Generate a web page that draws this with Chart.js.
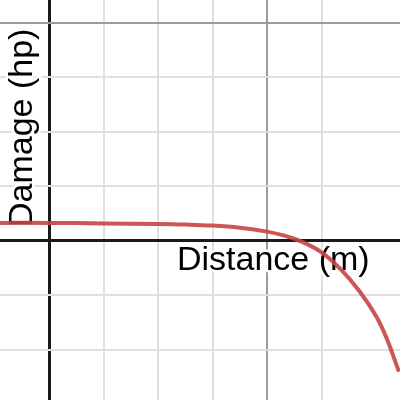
<!DOCTYPE html>
<html>
<head>
<meta charset="utf-8">
<script src="https://cdn.jsdelivr.net/npm/chart.js@4/dist/chart.umd.min.js"></script>
<style>
html,body{margin:0;padding:0;background:#fff;}
#wrap{width:400px;height:400px;}
</style>
</head>
<body>
<div id="wrap"><canvas id="c" width="400" height="400"></canvas></div>
<script>
// Data (grid unit = one minor square)
const distance = [-0.9, 0, 1, 2, 2.5, 3, 3.5, 4, 4.3, 4.6, 5.0, 5.35, 5.7, 6.0, 6.2, 6.42];
const damage   = [0.33, 0.33, 0.32, 0.31, 0.30, 0.28, 0.24, 0.17, 0.10, 0.0, -0.21, -0.52, -0.93, -1.38, -1.8, -2.4];
const xLabel = "Distance (m)";
const yLabel = "Damage (hp)";
const xRange = [-0.9, 6.44];
const yRange = [-2.92, 4.42];

const points = distance.map((d, i) => ({x: d, y: damage[i]}));

function gridColor(ctx) {
  const v = ctx.tick ? ctx.tick.value : 0;
  if (Math.abs(v - Math.round(v)) > 1e-6) return 'rgba(0,0,0,0)';
  if (Math.round(v) === 0) return '#1a1a1a';
  if (Math.round(v) % 4 === 0) return '#9b9b9b';
  return '#e0e0e0';
}
function gridWidth(ctx) {
  const v = ctx.tick ? ctx.tick.value : 0;
  if (Math.abs(v) < 1e-6) return 3;
  return 2;
}

const labelPlugin = {
  id: 'axisLabels',
  beforeDatasetsDraw(chart) {
    const c = chart.ctx;
    c.save();
    c.font = '34px "Liberation Sans", Arial, sans-serif';
    c.textBaseline = 'alphabetic';
    c.textAlign = 'left';
    c.lineJoin = 'round';
    c.strokeStyle = '#ffffff';
    c.lineWidth = 5;
    c.fillStyle = '#000000';
    c.strokeText(xLabel, 177, 270);
    c.fillText(xLabel, 177, 270);
    c.translate(32, 227);
    c.rotate(-Math.PI / 2);
    c.strokeText(yLabel, 0, 0);
    c.fillText(yLabel, 0, 0);
    c.restore();
  }
};

new Chart(document.getElementById('c'), {
  type: 'scatter',
  data: {
    datasets: [{
      data: points,
      showLine: true,
      borderColor: 'rgba(199,68,64,0.9)',
      borderWidth: 4,
      pointRadius: 0,
      fill: false,
      tension: 0.4
    }]
  },
  options: {
    responsive: false,
    animation: false,
    devicePixelRatio: 1,
    layout: {padding: 0},
    plugins: {legend: {display: false}, tooltip: {enabled: false}},
    scales: {
      x: {
        type: 'linear',
        min: xRange[0], max: xRange[1],
        ticks: {display: false, stepSize: 1},
        grid: {color: gridColor, lineWidth: gridWidth, drawTicks: false},
        border: {display: false}
      },
      y: {
        type: 'linear',
        min: yRange[0], max: yRange[1],
        ticks: {display: false, stepSize: 1},
        grid: {color: gridColor, lineWidth: gridWidth, drawTicks: false},
        border: {display: false}
      }
    }
  },
  plugins: [labelPlugin]
});
</script>
</body>
</html>
